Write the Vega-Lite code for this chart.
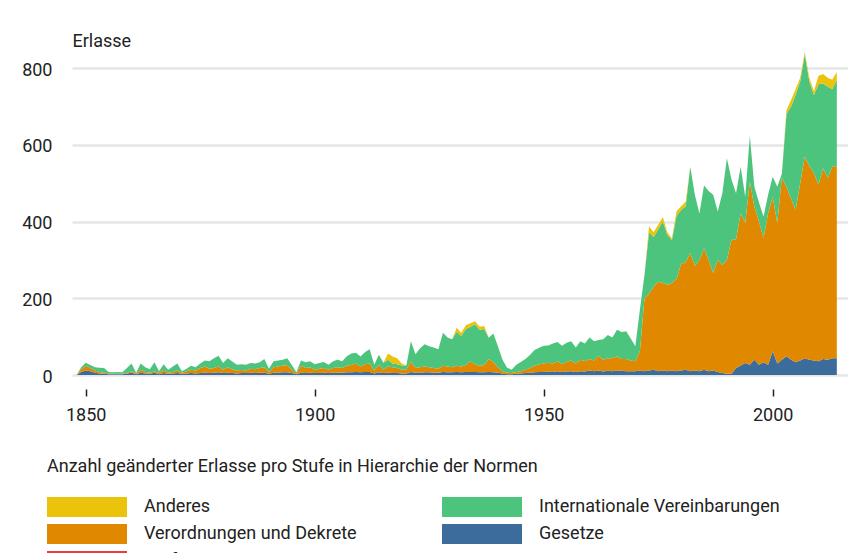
{
  "$schema": "https://vega.github.io/schema/vega-lite/v6.json",
  "width": 776,
  "height": 326,
  "autosize": {"type": "none"},
  "padding": {"left": 72, "top": 49, "right": 0, "bottom": 178},
  "background": "white",
  "config": {
    "font": "Roboto, sans-serif",
    "view": {"stroke": null}
  },
  "data": {
    "values": [
      {"year":1848,"Gesetze":0,"Verordnungen":0,"International":0,"Anderes":0},
      {"year":1849,"Gesetze":8,"Verordnungen":7,"International":5,"Anderes":0},
      {"year":1850,"Gesetze":12,"Verordnungen":12,"International":8,"Anderes":0},
      {"year":1851,"Gesetze":10,"Verordnungen":8,"International":8,"Anderes":0},
      {"year":1852,"Gesetze":6,"Verordnungen":6,"International":8,"Anderes":0},
      {"year":1853,"Gesetze":4,"Verordnungen":4,"International":11,"Anderes":0},
      {"year":1854,"Gesetze":3,"Verordnungen":3,"International":12,"Anderes":0},
      {"year":1855,"Gesetze":2,"Verordnungen":2,"International":4,"Anderes":0},
      {"year":1856,"Gesetze":2,"Verordnungen":1,"International":4,"Anderes":0},
      {"year":1857,"Gesetze":2,"Verordnungen":1,"International":5,"Anderes":0},
      {"year":1858,"Gesetze":2,"Verordnungen":1,"International":4,"Anderes":0},
      {"year":1859,"Gesetze":4,"Verordnungen":2,"International":12,"Anderes":0},
      {"year":1860,"Gesetze":6,"Verordnungen":4,"International":20,"Anderes":0},
      {"year":1861,"Gesetze":2,"Verordnungen":2,"International":2,"Anderes":0},
      {"year":1862,"Gesetze":6,"Verordnungen":8,"International":16,"Anderes":0},
      {"year":1863,"Gesetze":4,"Verordnungen":4,"International":12,"Anderes":0},
      {"year":1864,"Gesetze":3,"Verordnungen":3,"International":9,"Anderes":0},
      {"year":1865,"Gesetze":6,"Verordnungen":4,"International":23,"Anderes":0},
      {"year":1866,"Gesetze":2,"Verordnungen":3,"International":5,"Anderes":0},
      {"year":1867,"Gesetze":5,"Verordnungen":9,"International":14,"Anderes":0},
      {"year":1868,"Gesetze":3,"Verordnungen":3,"International":8,"Anderes":0},
      {"year":1869,"Gesetze":4,"Verordnungen":4,"International":14,"Anderes":0},
      {"year":1870,"Gesetze":5,"Verordnungen":7,"International":18,"Anderes":0},
      {"year":1871,"Gesetze":3,"Verordnungen":3,"International":4,"Anderes":0},
      {"year":1872,"Gesetze":4,"Verordnungen":6,"International":6,"Anderes":0},
      {"year":1873,"Gesetze":5,"Verordnungen":9,"International":10,"Anderes":0},
      {"year":1874,"Gesetze":4,"Verordnungen":8,"International":8,"Anderes":0},
      {"year":1875,"Gesetze":5,"Verordnungen":13,"International":12,"Anderes":0},
      {"year":1876,"Gesetze":6,"Verordnungen":16,"International":16,"Anderes":0},
      {"year":1877,"Gesetze":5,"Verordnungen":11,"International":20,"Anderes":0},
      {"year":1878,"Gesetze":6,"Verordnungen":12,"International":26,"Anderes":0},
      {"year":1879,"Gesetze":7,"Verordnungen":15,"International":28,"Anderes":0},
      {"year":1880,"Gesetze":5,"Verordnungen":9,"International":17,"Anderes":0},
      {"year":1881,"Gesetze":6,"Verordnungen":14,"International":24,"Anderes":0},
      {"year":1882,"Gesetze":5,"Verordnungen":10,"International":20,"Anderes":0},
      {"year":1883,"Gesetze":4,"Verordnungen":8,"International":15,"Anderes":0},
      {"year":1884,"Gesetze":5,"Verordnungen":8,"International":15,"Anderes":0},
      {"year":1885,"Gesetze":5,"Verordnungen":7,"International":15,"Anderes":0},
      {"year":1886,"Gesetze":6,"Verordnungen":10,"International":15,"Anderes":0},
      {"year":1887,"Gesetze":5,"Verordnungen":10,"International":15,"Anderes":0},
      {"year":1888,"Gesetze":6,"Verordnungen":12,"International":15,"Anderes":0},
      {"year":1889,"Gesetze":6,"Verordnungen":14,"International":22,"Anderes":0},
      {"year":1890,"Gesetze":3,"Verordnungen":5,"International":8,"Anderes":0},
      {"year":1891,"Gesetze":6,"Verordnungen":14,"International":16,"Anderes":0},
      {"year":1892,"Gesetze":6,"Verordnungen":16,"International":16,"Anderes":0},
      {"year":1893,"Gesetze":7,"Verordnungen":17,"International":16,"Anderes":0},
      {"year":1894,"Gesetze":7,"Verordnungen":19,"International":18,"Anderes":0},
      {"year":1895,"Gesetze":5,"Verordnungen":9,"International":12,"Anderes":0},
      {"year":1896,"Gesetze":2,"Verordnungen":2,"International":3,"Anderes":0},
      {"year":1897,"Gesetze":6,"Verordnungen":18,"International":14,"Anderes":0},
      {"year":1898,"Gesetze":5,"Verordnungen":13,"International":15,"Anderes":0},
      {"year":1899,"Gesetze":6,"Verordnungen":14,"International":16,"Anderes":0},
      {"year":1900,"Gesetze":5,"Verordnungen":9,"International":14,"Anderes":0},
      {"year":1901,"Gesetze":5,"Verordnungen":11,"International":15,"Anderes":0},
      {"year":1902,"Gesetze":6,"Verordnungen":12,"International":16,"Anderes":0},
      {"year":1903,"Gesetze":5,"Verordnungen":9,"International":13,"Anderes":0},
      {"year":1904,"Gesetze":6,"Verordnungen":12,"International":18,"Anderes":0},
      {"year":1905,"Gesetze":6,"Verordnungen":14,"International":20,"Anderes":0},
      {"year":1906,"Gesetze":6,"Verordnungen":12,"International":18,"Anderes":0},
      {"year":1907,"Gesetze":7,"Verordnungen":17,"International":25,"Anderes":0},
      {"year":1908,"Gesetze":7,"Verordnungen":19,"International":30,"Anderes":0},
      {"year":1909,"Gesetze":8,"Verordnungen":22,"International":28,"Anderes":0},
      {"year":1910,"Gesetze":7,"Verordnungen":15,"International":26,"Anderes":0},
      {"year":1911,"Gesetze":8,"Verordnungen":20,"International":32,"Anderes":0},
      {"year":1912,"Gesetze":8,"Verordnungen":22,"International":37,"Anderes":0},
      {"year":1913,"Gesetze":4,"Verordnungen":8,"International":15,"Anderes":0},
      {"year":1914,"Gesetze":7,"Verordnungen":19,"International":27,"Anderes":0},
      {"year":1915,"Gesetze":5,"Verordnungen":9,"International":18,"Anderes":0},
      {"year":1916,"Gesetze":6,"Verordnungen":16,"International":18,"Anderes":16},
      {"year":1917,"Gesetze":5,"Verordnungen":15,"International":10,"Anderes":18},
      {"year":1918,"Gesetze":5,"Verordnungen":13,"International":10,"Anderes":16},
      {"year":1919,"Gesetze":4,"Verordnungen":10,"International":11,"Anderes":5},
      {"year":1920,"Gesetze":4,"Verordnungen":10,"International":11,"Anderes":0},
      {"year":1921,"Gesetze":8,"Verordnungen":28,"International":52,"Anderes":0},
      {"year":1922,"Gesetze":6,"Verordnungen":12,"International":36,"Anderes":0},
      {"year":1923,"Gesetze":6,"Verordnungen":14,"International":50,"Anderes":0},
      {"year":1924,"Gesetze":7,"Verordnungen":15,"International":58,"Anderes":0},
      {"year":1925,"Gesetze":7,"Verordnungen":13,"International":55,"Anderes":0},
      {"year":1926,"Gesetze":6,"Verordnungen":12,"International":54,"Anderes":0},
      {"year":1927,"Gesetze":6,"Verordnungen":10,"International":51,"Anderes":0},
      {"year":1928,"Gesetze":8,"Verordnungen":16,"International":86,"Anderes":0},
      {"year":1929,"Gesetze":7,"Verordnungen":15,"International":76,"Anderes":0},
      {"year":1930,"Gesetze":7,"Verordnungen":13,"International":73,"Anderes":0},
      {"year":1931,"Gesetze":8,"Verordnungen":16,"International":89,"Anderes":10},
      {"year":1932,"Gesetze":7,"Verordnungen":15,"International":80,"Anderes":8},
      {"year":1933,"Gesetze":8,"Verordnungen":18,"International":94,"Anderes":10},
      {"year":1934,"Gesetze":8,"Verordnungen":28,"International":90,"Anderes":9},
      {"year":1935,"Gesetze":8,"Verordnungen":20,"International":104,"Anderes":8},
      {"year":1936,"Gesetze":7,"Verordnungen":17,"International":94,"Anderes":8},
      {"year":1937,"Gesetze":7,"Verordnungen":19,"International":94,"Anderes":8},
      {"year":1938,"Gesetze":8,"Verordnungen":34,"International":55,"Anderes":0},
      {"year":1939,"Gesetze":7,"Verordnungen":27,"International":74,"Anderes":0},
      {"year":1940,"Gesetze":6,"Verordnungen":14,"International":55,"Anderes":0},
      {"year":1941,"Gesetze":4,"Verordnungen":6,"International":30,"Anderes":0},
      {"year":1942,"Gesetze":2,"Verordnungen":4,"International":13,"Anderes":0},
      {"year":1943,"Gesetze":2,"Verordnungen":3,"International":9,"Anderes":0},
      {"year":1944,"Gesetze":3,"Verordnungen":5,"International":19,"Anderes":0},
      {"year":1945,"Gesetze":4,"Verordnungen":6,"International":24,"Anderes":0},
      {"year":1946,"Gesetze":5,"Verordnungen":9,"International":28,"Anderes":0},
      {"year":1947,"Gesetze":6,"Verordnungen":12,"International":34,"Anderes":0},
      {"year":1948,"Gesetze":7,"Verordnungen":17,"International":41,"Anderes":0},
      {"year":1949,"Gesetze":8,"Verordnungen":20,"International":43,"Anderes":0},
      {"year":1950,"Gesetze":8,"Verordnungen":22,"International":46,"Anderes":0},
      {"year":1951,"Gesetze":9,"Verordnungen":23,"International":45,"Anderes":0},
      {"year":1952,"Gesetze":8,"Verordnungen":22,"International":52,"Anderes":0},
      {"year":1953,"Gesetze":10,"Verordnungen":26,"International":50,"Anderes":0},
      {"year":1954,"Gesetze":8,"Verordnungen":20,"International":48,"Anderes":0},
      {"year":1955,"Gesetze":9,"Verordnungen":25,"International":50,"Anderes":0},
      {"year":1956,"Gesetze":10,"Verordnungen":28,"International":50,"Anderes":0},
      {"year":1957,"Gesetze":8,"Verordnungen":22,"International":42,"Anderes":0},
      {"year":1958,"Gesetze":10,"Verordnungen":30,"International":48,"Anderes":0},
      {"year":1959,"Gesetze":9,"Verordnungen":27,"International":46,"Anderes":0},
      {"year":1960,"Gesetze":12,"Verordnungen":30,"International":56,"Anderes":0},
      {"year":1961,"Gesetze":10,"Verordnungen":28,"International":50,"Anderes":0},
      {"year":1962,"Gesetze":12,"Verordnungen":38,"International":41,"Anderes":0},
      {"year":1963,"Gesetze":9,"Verordnungen":31,"International":53,"Anderes":0},
      {"year":1964,"Gesetze":11,"Verordnungen":33,"International":60,"Anderes":0},
      {"year":1965,"Gesetze":10,"Verordnungen":34,"International":54,"Anderes":0},
      {"year":1966,"Gesetze":12,"Verordnungen":36,"International":70,"Anderes":0},
      {"year":1967,"Gesetze":11,"Verordnungen":31,"International":70,"Anderes":0},
      {"year":1968,"Gesetze":10,"Verordnungen":32,"International":72,"Anderes":0},
      {"year":1969,"Gesetze":10,"Verordnungen":28,"International":57,"Anderes":0},
      {"year":1970,"Gesetze":10,"Verordnungen":26,"International":39,"Anderes":0},
      {"year":1971,"Gesetze":12,"Verordnungen":50,"International":108,"Anderes":0},
      {"year":1972,"Gesetze":10,"Verordnungen":190,"International":61,"Anderes":0},
      {"year":1973,"Gesetze":12,"Verordnungen":200,"International":160,"Anderes":15},
      {"year":1974,"Gesetze":14,"Verordnungen":216,"International":130,"Anderes":12},
      {"year":1975,"Gesetze":10,"Verordnungen":234,"International":136,"Anderes":12},
      {"year":1976,"Gesetze":12,"Verordnungen":228,"International":160,"Anderes":12},
      {"year":1977,"Gesetze":10,"Verordnungen":225,"International":130,"Anderes":7},
      {"year":1978,"Gesetze":12,"Verordnungen":228,"International":112,"Anderes":4},
      {"year":1979,"Gesetze":10,"Verordnungen":240,"International":165,"Anderes":12},
      {"year":1980,"Gesetze":12,"Verordnungen":278,"International":140,"Anderes":10},
      {"year":1981,"Gesetze":14,"Verordnungen":280,"International":146,"Anderes":12},
      {"year":1982,"Gesetze":10,"Verordnungen":308,"International":225,"Anderes":0},
      {"year":1983,"Gesetze":12,"Verordnungen":273,"International":185,"Anderes":0},
      {"year":1984,"Gesetze":10,"Verordnungen":290,"International":121,"Anderes":0},
      {"year":1985,"Gesetze":14,"Verordnungen":316,"International":164,"Anderes":0},
      {"year":1986,"Gesetze":10,"Verordnungen":290,"International":180,"Anderes":0},
      {"year":1987,"Gesetze":12,"Verordnungen":254,"International":204,"Anderes":0},
      {"year":1988,"Gesetze":8,"Verordnungen":292,"International":126,"Anderes":0},
      {"year":1989,"Gesetze":5,"Verordnungen":282,"International":187,"Anderes":0},
      {"year":1990,"Gesetze":3,"Verordnungen":297,"International":265,"Anderes":0},
      {"year":1991,"Gesetze":3,"Verordnungen":349,"International":158,"Anderes":0},
      {"year":1992,"Gesetze":18,"Verordnungen":336,"International":120,"Anderes":0},
      {"year":1993,"Gesetze":25,"Verordnungen":397,"International":121,"Anderes":0},
      {"year":1994,"Gesetze":31,"Verordnungen":365,"International":69,"Anderes":0},
      {"year":1995,"Gesetze":27,"Verordnungen":477,"International":119,"Anderes":0},
      {"year":1996,"Gesetze":40,"Verordnungen":399,"International":52,"Anderes":0},
      {"year":1997,"Gesetze":27,"Verordnungen":373,"International":50,"Anderes":0},
      {"year":1998,"Gesetze":33,"Verordnungen":324,"International":56,"Anderes":0},
      {"year":1999,"Gesetze":27,"Verordnungen":395,"International":48,"Anderes":0},
      {"year":2000,"Gesetze":62,"Verordnungen":403,"International":52,"Anderes":0},
      {"year":2001,"Gesetze":30,"Verordnungen":366,"International":95,"Anderes":0},
      {"year":2002,"Gesetze":40,"Verordnungen":475,"International":10,"Anderes":0},
      {"year":2003,"Gesetze":49,"Verordnungen":441,"International":190,"Anderes":10},
      {"year":2004,"Gesetze":40,"Verordnungen":420,"International":240,"Anderes":17},
      {"year":2005,"Gesetze":33,"Verordnungen":397,"International":300,"Anderes":15},
      {"year":2006,"Gesetze":38,"Verordnungen":462,"International":265,"Anderes":10},
      {"year":2007,"Gesetze":44,"Verordnungen":525,"International":267,"Anderes":6},
      {"year":2008,"Gesetze":40,"Verordnungen":505,"International":220,"Anderes":10},
      {"year":2009,"Gesetze":38,"Verordnungen":488,"International":204,"Anderes":10},
      {"year":2010,"Gesetze":36,"Verordnungen":460,"International":262,"Anderes":22},
      {"year":2011,"Gesetze":42,"Verordnungen":497,"International":221,"Anderes":25},
      {"year":2012,"Gesetze":40,"Verordnungen":473,"International":239,"Anderes":23},
      {"year":2013,"Gesetze":44,"Verordnungen":499,"International":202,"Anderes":25},
      {"year":2014,"Gesetze":44,"Verordnungen":501,"International":225,"Anderes":20}
    ]
  },
  "transform": [
    {"fold": ["Gesetze", "Verordnungen", "International", "Anderes"], "as": ["stufe", "n"]},
    {"calculate": "datum.stufe == 'Gesetze' ? 0 : datum.stufe == 'Verordnungen' ? 1 : datum.stufe == 'International' ? 2 : 3", "as": "ord"}
  ],
  "mark": {"type": "area", "opacity": 1, "interpolate": "linear"},
  "encoding": {
    "x": {
      "field": "year",
      "type": "quantitative",
      "scale": {"domain": [1847, 2016.44], "nice": false, "zero": false},
      "axis": {
        "values": [1850, 1900, 1950, 2000],
        "format": "d",
        "title": null,
        "domain": false,
        "grid": false,
        "ticks": true,
        "tickSize": 7,
        "tickColor": "#222222",
        "tickWidth": 1.5,
        "offset": 14,
        "labelPadding": 10,
        "labelFontSize": 18,
        "labelColor": "#222222"
      }
    },
    "y": {
      "field": "n",
      "type": "quantitative",
      "stack": "zero",
      "scale": {"domain": [0, 850], "nice": false},
      "axis": {
        "title": "Erlasse",
        "titleAngle": 0,
        "titleAlign": "left",
        "titleBaseline": "alphabetic",
        "titleX": 0,
        "titleY": -3,
        "titleFontSize": 18,
        "titleFontWeight": "normal",
        "titleColor": "#222222",
        "values": [0, 200, 400, 600, 800],
        "domain": false,
        "ticks": false,
        "grid": true,
        "gridColor": "#e6e6e6",
        "gridWidth": 2.5,
        "labelFontSize": 18,
        "labelColor": "#222222",
        "labelPadding": 20,
        "labelOffset": 2
      }
    },
    "color": {
      "field": "stufe",
      "type": "nominal",
      "scale": {
        "domain": ["Anderes", "International", "Verordnungen", "Gesetze", "Verfassung"],
        "range": ["#ecc30b", "#4cc47d", "#e08900", "#3b6c9c", "#e8403f"]
      },
      "legend": {
        "orient": "none",
        "direction": "horizontal",
        "legendX": -25,
        "legendY": 409,
        "columns": 2,
        "title": "Anzahl geänderter Erlasse pro Stufe in Hierarchie der Normen",
        "titleFontSize": 18,
        "titleFontWeight": "normal",
        "titleColor": "#222222",
        "titlePadding": 21,
        "titleLimit": 800,
        "labelFontSize": 18,
        "labelColor": "#222222",
        "labelLimit": 400,
        "symbolType": "M-1,-1H7V1H-1Z",
        "symbolSize": 400,
        "symbolOpacity": 1,
        "symbolStrokeWidth": 0,
        "labelOffset": 77,
        "columnPadding": 85,
        "rowPadding": 7,
        "labelExpr": "datum.label == 'International' ? 'Internationale Vereinbarungen' : datum.label == 'Verordnungen' ? 'Verordnungen und Dekrete' : datum.label"
      }
    },
    "order": {"field": "ord", "type": "quantitative"}
  }
}
